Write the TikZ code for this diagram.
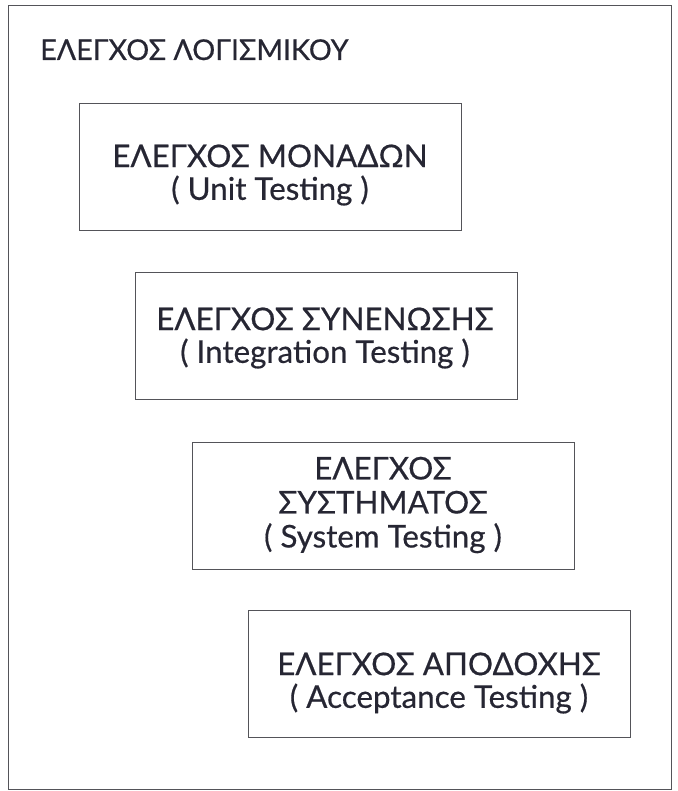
\documentclass[tikz,border=0pt]{standalone}
\usepackage{fontspec}
\setmainfont{Lato}[FakeBold=0.5]
\definecolor{ink}{rgb}{0.15,0.15,0.20}
\definecolor{frame}{rgb}{0.33,0.33,0.35}
\begin{document}
\begin{tikzpicture}[x=0.75pt,y=-0.75pt,
  stagebox/.style={draw=frame,line width=1.1pt,rectangle,minimum width=382*0.75pt,minimum height=127*0.75pt,inner sep=0pt},
  stagetext/.style={text=ink,align=center,font=\fontsize{23.5}{24.5}\selectfont,inner sep=0pt}]
\useasboundingbox (0,0) rectangle (677,791);
% outer frame
\node[draw=frame,line width=1.1pt,rectangle,minimum width=663*0.75pt,minimum height=784*0.75pt,inner sep=0pt,anchor=north west] (outer) at (8,5) {};
\node[text=ink,font=\fontsize{21.5}{24}\selectfont,anchor=base west,inner sep=0pt] (title) at (40,60) {ΕΛΕΓΧΟΣ ΛΟΓΙΣΜΙΚΟΥ};
% the four testing stages, stepped diagonally
\node[stagebox,anchor=north west] (unit) at (79,103) {};
\node[stagebox,anchor=north west] (integ) at (135,272) {};
\node[stagebox,anchor=north west] (sys) at (192,442) {};
\node[stagebox,anchor=north west] (accept) at (248,610) {};
\node[stagetext] (unitT) at (270,175) {ΕΛΕΓΧΟΣ ΜΟΝΑΔΩΝ\\( Unit Testing )};
\node[stagetext] (integT) at (325,338) {ΕΛΕΓΧΟΣ ΣΥΝΕΝΩΣΗΣ\\( Integration Testing )};
\node[stagetext,font=\fontsize{23.5}{25.5}\selectfont] (sysT) at (383,505) {ΕΛΕΓΧΟΣ\\ΣΥΣΤΗΜΑΤΟΣ\\( System Testing )};
\node[stagetext] (acceptT) at (439,683) {ΕΛΕΓΧΟΣ ΑΠΟΔΟΧΗΣ\\( Acceptance Testing )};
\end{tikzpicture}
\end{document}
